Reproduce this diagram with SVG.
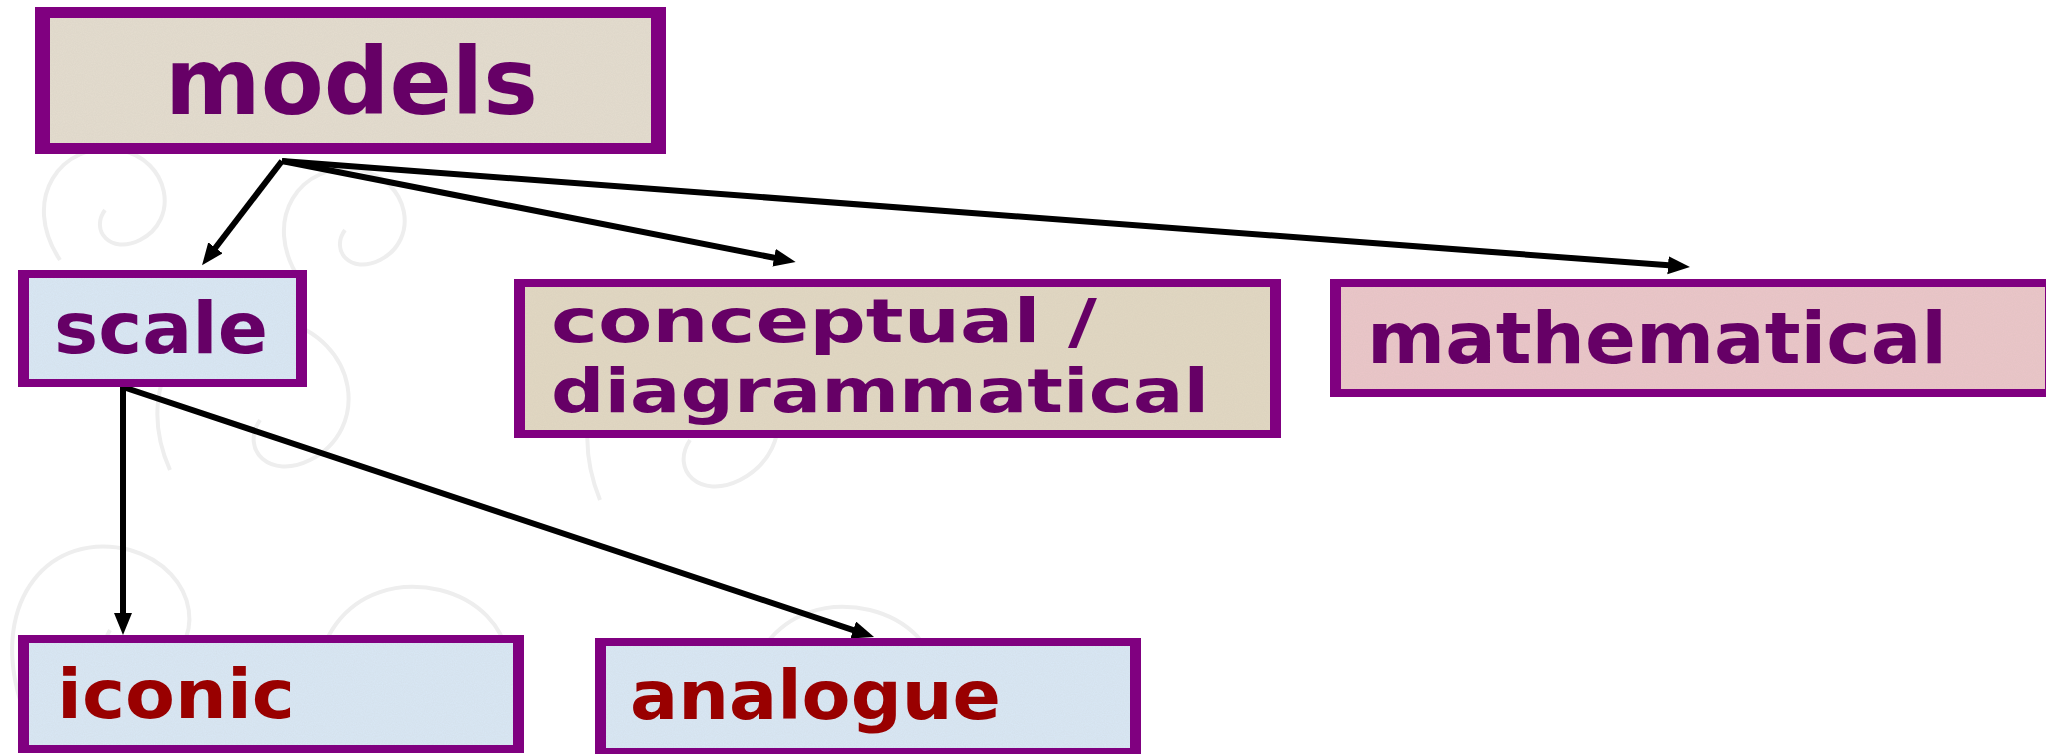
<svg xmlns="http://www.w3.org/2000/svg" width="2046" height="754" viewBox="0 0 2046 754">
<style>
.frame{fill:#800080}
.t{font-family:"DejaVu Sans","Liberation Sans",sans-serif;font-weight:700;fill:#660066}
.red{fill:#990000}
.edge{stroke:#000;stroke-width:6;fill:none;marker-end:url(#ah)}
.swirl{fill:none;stroke:#eeeeee;stroke-width:4}
</style>
<defs>
<marker id="ah" markerUnits="userSpaceOnUse" markerWidth="24" markerHeight="20" refX="4" refY="9" orient="auto">
<path d="M0,0 L22,9 L0,18 z" fill="#000"/>
</marker>
<filter id="grain" x="0" y="0" width="100%" height="100%">
<feTurbulence type="fractalNoise" baseFrequency="0.9" numOctaves="2" seed="3" result="n"/>
<feColorMatrix in="n" type="matrix" values="0 0 0 0 0.5  0 0 0 0 0.45  0 0 0 0 0.4  0 0 0 0.18 0" result="c"/>
<feComposite in="c" in2="SourceGraphic" operator="in" result="m"/>
<feMerge><feMergeNode in="SourceGraphic"/><feMergeNode in="m"/></feMerge>
</filter>
</defs>
<rect width="2046" height="754" fill="#ffffff"/>
<g id="watermark">
<path class="swirl" d="M60,260 C20,200 60,140 120,150 C170,160 180,220 140,240 C110,255 90,230 105,210"/>
<path class="swirl" d="M300,280 C260,220 300,160 360,170 C410,180 420,240 380,260 C350,275 330,250 345,230"/>
<path class="swirl" d="M170,470 C130,380 190,300 280,320 C360,340 370,430 310,460 C270,480 240,450 260,420"/>
<path class="swirl" d="M600,500 C560,400 620,320 710,340 C790,360 800,450 740,480 C700,500 670,470 690,440"/>
<path class="swirl" d="M20,700 C-10,600 50,530 130,550 C200,570 210,650 150,670 C115,680 95,655 110,630"/>
<path class="swirl" d="M330,740 C290,650 350,570 440,590 C520,610 530,700 470,720 C430,735 400,705 420,680"/>
<path class="swirl" d="M760,760 C720,670 780,590 870,610 C950,630 960,720 900,740"/>
</g>
<g id="connectors">
<line class="edge" x1="282" y1="161" x2="213" y2="251"/>
<line class="edge" x1="282" y1="161" x2="778" y2="258.5"/>
<line class="edge" x1="282" y1="161" x2="1672" y2="265.6"/>
<line class="edge" x1="123" y1="387" x2="123" y2="617"/>
<line class="edge" x1="123" y1="387" x2="857" y2="631.3"/>
</g>
<g id="models">
<rect class="frame" x="35" y="7" width="631" height="147"/>
<rect x="50" y="18" width="601" height="125" fill="#e4ddcf" filter="url(#grain)"/>
<text class="t" x="165" y="114" font-size="92" textLength="373" lengthAdjust="spacingAndGlyphs">models</text>
</g>
<g id="scale">
<rect class="frame" x="18" y="270" width="289" height="117"/>
<rect x="29" y="278" width="267" height="101" fill="#d9e8f6" filter="url(#grain)"/>
<text class="t" x="54" y="353" font-size="72" textLength="214" lengthAdjust="spacingAndGlyphs">scale</text>
</g>
<g id="conceptual">
<rect class="frame" x="514" y="279" width="767" height="159"/>
<rect x="525" y="287" width="745" height="143" fill="#e2d8c3" filter="url(#grain)"/>
<text class="t" font-size="60"><tspan x="551" y="342" textLength="546" lengthAdjust="spacingAndGlyphs">conceptual /</tspan><tspan x="551" y="412" textLength="658" lengthAdjust="spacingAndGlyphs">diagrammatical</tspan></text>
</g>
<g id="mathematical">
<rect class="frame" x="1330" y="279" width="730" height="118"/>
<rect x="1341" y="287" width="704" height="102" fill="#ebc6c9" filter="url(#grain)"/>
<text class="t" x="1367" y="363" font-size="72" textLength="580" lengthAdjust="spacingAndGlyphs">mathematical</text>
</g>
<g id="iconic">
<rect class="frame" x="18" y="635" width="506" height="118"/>
<rect x="29" y="643" width="484" height="102" fill="#d9e8f6" filter="url(#grain)"/>
<text class="t red" x="57" y="718" font-size="68" textLength="238" lengthAdjust="spacingAndGlyphs">iconic</text>
</g>
<g id="analogue">
<rect class="frame" x="595" y="638" width="546" height="118"/>
<rect x="606" y="646" width="524" height="102" fill="#d9e8f6" filter="url(#grain)"/>
<text class="t red" x="630" y="719" font-size="68" textLength="371" lengthAdjust="spacingAndGlyphs">analogue</text>
</g>
</svg>
